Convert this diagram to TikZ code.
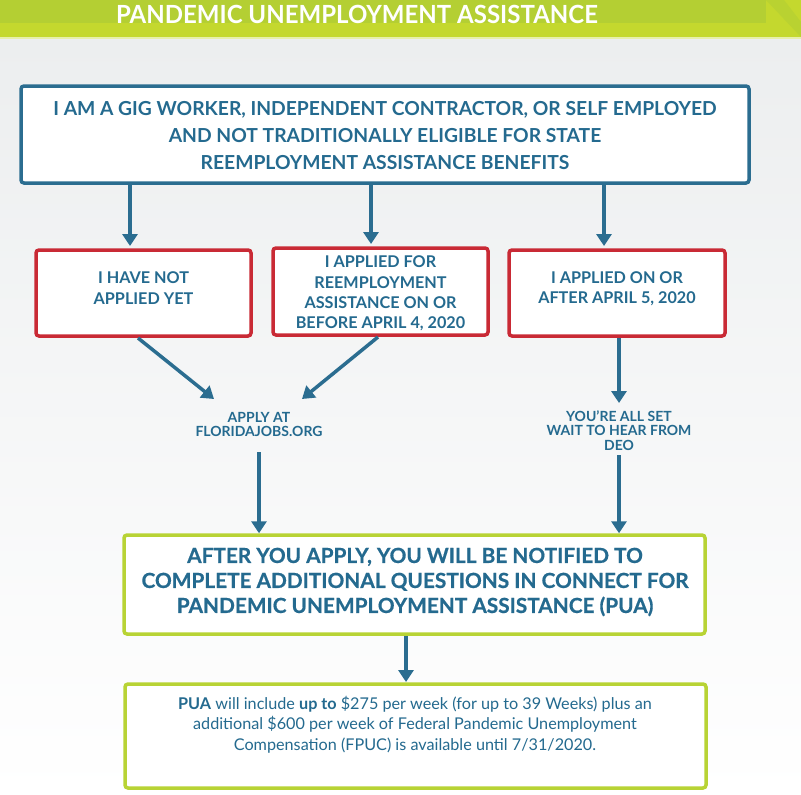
\documentclass[tikz,border=0pt]{standalone}
\usepackage{fontspec}
\setmainfont{Lato}
\newfontfamily\condfont[FakeStretch=0.96]{Lato}
\newfontfamily\heavyfont[FakeBold=0.6]{Lato}
\usetikzlibrary{arrows.meta,calc}
\definecolor{txtblue}{HTML}{246A8F}
\definecolor{boxblue}{HTML}{2B6D90}
\definecolor{boxred}{HTML}{C92A35}
\definecolor{lime}{HTML}{B8D335}
\definecolor{bannerlight}{HTML}{C4D82E}
\definecolor{bannerdark}{HTML}{B4CF33}
\definecolor{bggray}{HTML}{ECEEEF}
\tikzset{
  boxbase/.style={draw, line width=3.5pt, rounded corners=3pt, fill=white, inner sep=0pt},
  bluebox/.style={boxbase, draw=boxblue},
  redbox/.style={boxbase, draw=boxred},
  limebox/.style={boxbase, draw=lime},
  arr/.style={draw=boxblue, line width=3.5pt, -{Triangle[width=15pt,length=12pt]}},
  lbl/.style={text=txtblue, align=center, inner sep=0pt},
  redtxt/.style={lbl, font=\bfseries\fontsize{16.2}{20.5}\selectfont},
  midtxt/.style={lbl, font=\bfseries\fontsize{14}{14.5}\selectfont},
}
\begin{document}
\begin{tikzpicture}[x=1pt,y=-1pt]
\useasboundingbox (0,0) rectangle (801,795);
% background
\fill[top color=bggray, bottom color=white] (0,38) rectangle (801,795);
% banner
\fill[bannerlight] (0,0) rectangle (801,37);
\fill[bannerdark] (0,0) rectangle (766,23);
\fill[bannerdark!70!bannerlight] (766,0) -- (784,0) -- (801,22) -- (801,37) -- cycle;
\fill[bannerlight!40!white] (0,37) rectangle (801,39);
\node[text=white, inner sep=0pt, font=\condfont\bfseries\fontsize{25}{28}\selectfont] (title) at (357,14)
  {PANDEMIC UNEMPLOYMENT ASSISTANCE};

% top box
\node[bluebox, minimum width=728pt, minimum height=97pt] (top) at (385,134.5) {};
\node[lbl, font=\bfseries\fontsize{19.3}{27}\selectfont] (toptext) at (385,136)
  {I AM A GIG WORKER, INDEPENDENT CONTRACTOR, OR SELF EMPLOYED\\
   AND NOT TRADITIONALLY ELIGIBLE FOR STATE\\
   REEMPLOYMENT ASSISTANCE BENEFITS};

% red boxes
\node[redbox, minimum width=215pt, minimum height=86pt] (b1) at (143.5,293) {};
\node[redbox, minimum width=215pt, minimum height=87pt] (b2) at (380.5,291.5) {};
\node[redbox, minimum width=216pt, minimum height=86pt] (b3) at (617,293) {};
\node[redtxt] (t1) at (143.5,288) {I HAVE NOT\\ APPLIED YET};
\node[redtxt, font=\bfseries\fontsize{16.2}{20.3}\selectfont] (t2) at (380.5,293.5)
  {I APPLIED FOR\\ REEMPLOYMENT\\ ASSISTANCE ON OR\\ BEFORE APRIL 4, 2020};
\node[redtxt] (t3) at (617,288.5) {I APPLIED ON OR\\ AFTER APRIL 5, 2020};

% arrows top -> red boxes
\coordinate (a1) at (130,246);
\coordinate (a2) at (371,244);
\coordinate (a3) at (604,246);
\draw[arr] (top.south -| a1) -- (a1);
\draw[arr] (top.south -| a2) -- (a2);
\draw[arr] (top.south -| a3) -- (a3);

% middle labels
\node[midtxt] (apply) at (259,424.5) {APPLY AT\\ FLORIDAJOBS.ORG};
\node[midtxt] (wait) at (619,430.5) {YOU’RE ALL SET\\ WAIT TO HEAR FROM\\ DEO};

\coordinate (d1s) at (138,338);
\coordinate (d1e) at (214,399);
\coordinate (d2s) at (378,337);
\coordinate (d2e) at (302,399);
\draw[arr] (d1s) -- (d1e);
\draw[arr] (d2s) -- (d2e);
\coordinate (r3) at (619,403);
\draw[arr] (b3.south -| r3) -- (r3);

% green boxes
\node[limebox, minimum width=581pt, minimum height=99pt] (g1) at (414.5,584.5) {};
\node[lbl, font=\heavyfont\bfseries\fontsize{20.8}{25}\selectfont] (g1text) at (415,582)
  {AFTER YOU APPLY, YOU WILL BE NOTIFIED TO\\
   COMPLETE ADDITIONAL QUESTIONS IN CONNECT FOR\\
   PANDEMIC UNEMPLOYMENT ASSISTANCE (PUA)};
\node[limebox, minimum width=581pt, minimum height=104pt] (g2) at (415.5,736) {};
\node[lbl, font=\fontsize{16.2}{20.5}\selectfont] (g2text) at (415,724.5)
  {\textbf{PUA} will include \textbf{up to} \$275 per week (for up to 39 Weeks) plus an\\
   additional \$600 per week of Federal Pandemic Unemployment\\
   Compensation (FPUC) is available until 7/31/2020.};

% arrows to green boxes
\coordinate (s1) at (259,452);
\coordinate (s2) at (619,455);
\draw[arr] (s1) -- (g1.north -| s1);
\draw[arr] (s2) -- (g1.north -| s2);
\coordinate (s3) at (406,682);
\draw[arr] (g1.south -| s3) -- (s3);
\end{tikzpicture}
\end{document}
